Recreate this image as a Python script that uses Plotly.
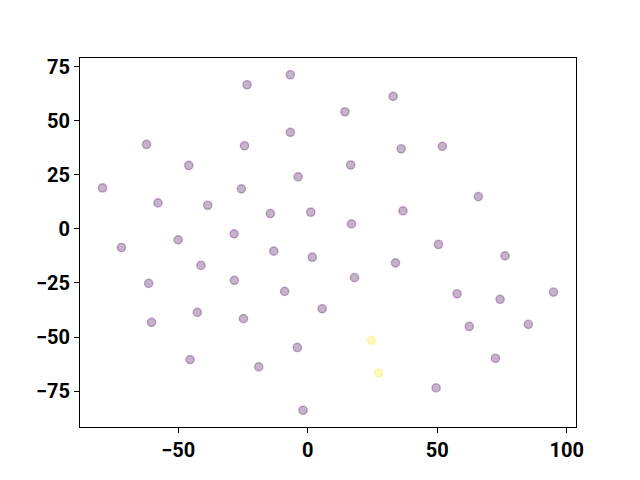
import plotly.graph_objects as go

x_vals = [-79.2, -71.9, -62.2, -57.8, -61.4, -60.3, -50.0, -45.9, -41.2, -38.6,
          -42.6, -45.4, -28.4, -28.3, -24.4, -25.6, -24.8, -23.4, -18.9, -14.4,
          -13.1, -8.9, -6.7, -6.7, -3.7, -4.0, 1.2, 1.8, -1.8, 5.6,
          14.4, 16.6, 16.9, 18.1, 24.6, 27.4, 33.0, 36.1, 33.9, 36.8,
          52.0, 50.5, 49.6, 57.7, 62.4, 65.9, 76.2, 74.3, 72.5, 85.2, 94.9]
y_vals = [18.9, -8.6, 39.0, 12.0, -25.2, -43.2, -5.1, 29.3, -16.9, 10.9,
          -38.6, -60.4, -2.3, -23.8, 38.4, 18.5, -41.5, 66.6, -63.8, 7.1,
          -10.3, -28.9, 71.2, 44.6, 24.0, -54.8, 7.7, -13.1, -83.8, -36.9,
          54.1, 29.5, 2.3, -22.5, -51.5, -66.6, 61.2, 37.0, -15.7, 8.3,
          38.1, -7.2, -73.5, -30.0, -45.1, 14.9, -12.5, -32.6, -59.8, -44.1, -29.2]
labels = [0] * 34 + [1, 1] + [0] * 15

x_ticks = [-50, 0, 50, 100]
y_ticks = [-75, -50, -25, 0, 25, 50, 75]

palette = {0: (68, 1, 84), 1: (253, 231, 37)}
fills = ["rgba(%d,%d,%d,0.3)" % palette[c] for c in labels]

fig = go.Figure()
fig.add_trace(go.Scatter(
    x=x_vals, y=y_vals, mode="markers",
    marker=dict(size=8.3, color=fills, line=dict(color=fills, width=1.4)),
    showlegend=False,
))

def padded(v):
    lo, hi = min(v), max(v)
    s = hi - lo
    return [lo - 0.05 * s, hi + 0.05 * s]

axis_common = dict(
    showgrid=False, zeroline=False, showline=True, linecolor="black", linewidth=1.1,
    mirror=True, ticks="outside", ticklen=5, tickwidth=1.1, tickcolor="black",
    automargin=False,
    tickfont=dict(family="Roboto", size=20, color="black", weight="bold"),
)

# the page body has an 8px default margin, so the figure is 8px smaller
fig.update_layout(
    width=632, height=472,
    margin=dict(l=72, r=64, t=49.6, b=52.8),
    paper_bgcolor="white", plot_bgcolor="white",
    xaxis=dict(range=padded(x_vals), tickvals=x_ticks, **axis_common),
    yaxis=dict(range=padded(y_vals), tickvals=y_ticks, **axis_common),
)

fig.write_html("out.html")
